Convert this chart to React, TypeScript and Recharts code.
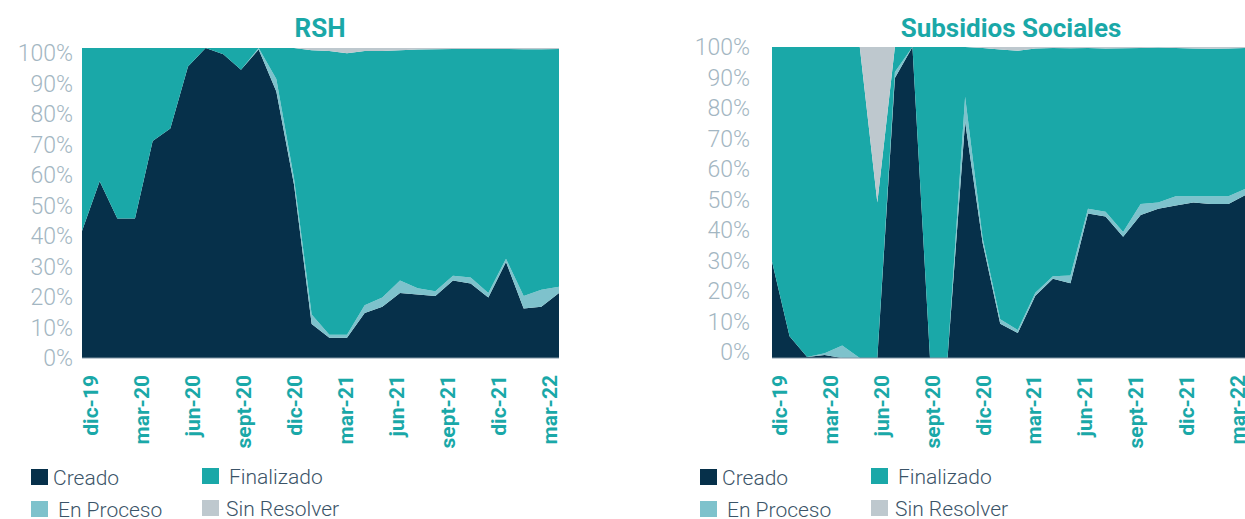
import React from 'react';
import { AreaChart, Area, XAxis, YAxis } from 'recharts';

const months = [
  'dic-19', 'ene-20', 'feb-20', 'mar-20', 'abr-20', 'may-20', 'jun-20', 'jul-20', 'ago-20', 'sept-20',
  'oct-20', 'nov-20', 'dic-20', 'ene-21', 'feb-21', 'mar-21', 'abr-21', 'may-21', 'jun-21', 'jul-21',
  'ago-21', 'sept-21', 'oct-21', 'nov-21', 'dic-21', 'ene-22', 'feb-22', 'mar-22'
];

const yTicks = [0, 0.1, 0.2, 0.3, 0.4, 0.5, 0.6, 0.7, 0.8, 0.9, 1];

// RSH (%)
const rshCreado = [41, 57, 45, 45, 70, 74, 94, 100, 98, 93, 99.5, 86, 56, 11, 6.5, 6.5, 14.5, 16.5, 21, 20.5, 20, 25, 24, 19.5, 31, 16, 16.5, 21];
const rshEnProceso = [0, 0, 0, 0, 0, 0, 0, 0, 0, 0, 0.5, 4, 2, 3, 1, 1, 2.5, 3, 4, 2, 1.5, 1.5, 2, 1.5, 1, 4, 5.5, 2];
const rshFinalizado = [59, 43, 55, 55, 30, 26, 6, 0, 2, 7, 0, 10, 42, 85.3, 91.5, 90.8, 82, 79.5, 74.3, 77, 78.1, 73.2, 73.7, 78.7, 67.7, 79.6, 77.6, 76.7];
const rshSinResolver = [0, 0, 0, 0, 0, 0, 0, 0, 0, 0, 0, 0, 0, 0.7, 1, 1.7, 1, 1, 0.7, 0.5, 0.4, 0.3, 0.3, 0.3, 0.3, 0.4, 0.4, 0.3];

// Subsidios Sociales (%)
const subCreado = [31, 7, 0.3, 1, 0, 0, 0, 90, 100, 0, 0, 76, 37, 11, 8, 20, 25.5, 24, 46.5, 45.5, 39, 46, 48, 49, 50, 49.5, 49.5, 52.5];
const subEnProceso = [0, 0, 0, 0.5, 4, 0, 0, 2, 0, 0, 0, 8, 1.5, 1.5, 1, 1, 0.8, 2.5, 1.5, 1.5, 1.5, 3.5, 2, 3, 2, 2.5, 2.5, 2];
const subFinalizado = [69, 93, 99.7, 98.5, 96, 100, 50, 8, 0, 100, 100, 16, 61.2, 86.7, 89.8, 78.5, 73.4, 73.1, 51.7, 52.5, 59.1, 50.2, 49.8, 47.7, 47.5, 47.4, 47.5, 45.2];
const subSinResolver = [0, 0, 0, 0, 0, 0, 50, 0, 0, 0, 0, 0, 0.3, 0.8, 1.2, 0.5, 0.3, 0.4, 0.3, 0.5, 0.4, 0.3, 0.2, 0.3, 0.5, 0.6, 0.5, 0.3];

const series = [
  { key: 'creado', name: 'Creado', color: '#06304A' },
  { key: 'enProceso', name: 'En Proceso', color: '#7EC2CC' },
  { key: 'finalizado', name: 'Finalizado', color: '#1AA8A8' },
  { key: 'sinResolver', name: 'Sin Resolver', color: '#BEC8CE' },
];

const TEAL = '#1AA8A8';
const GRAY_TEXT = '#A3B6C2';
const LEGEND_TEXT = '#3B5468';

const buildData = (c: number[], p: number[], f: number[], s: number[]) =>
  months.map((m, i) => ({ month: m, creado: c[i], enProceso: p[i], finalizado: f[i], sinResolver: s[i] }));

const rshData = buildData(rshCreado, rshEnProceso, rshFinalizado, rshSinResolver);
const subData = buildData(subCreado, subEnProceso, subFinalizado, subSinResolver);

const MonthTick = (props: any) => {
  const { x, y, payload } = props;
  return (
    <text
      transform={`translate(${x},${y}) rotate(-90)`}
      textAnchor="end"
      dominantBaseline="central"
      fill={TEAL}
      fontSize={21}
      fontWeight={700}
      fontFamily="Roboto, sans-serif"
    >
      {payload.value}
    </text>
  );
};

type StackProps = {
  data: any[];
  width: number;
  top: number;
  right: number;
  yWidth: number;
  yGap: number;
  yPad: { top: number; bottom: number };
};

const StackChart: React.FC<StackProps> = ({ data, width, top, right, yWidth, yGap, yPad }) => (
  <AreaChart
    width={width}
    height={460}
    data={data}
    stackOffset="expand"
    margin={{ top, right, bottom: 0, left: 0 }}
  >
    <XAxis dataKey="month" hide height={0} />
    {/* labels sit at band centres, areas run edge to edge */}
    <XAxis
      xAxisId="labels"
      dataKey="month"
      scale="band"
      interval={2}
      height={102}
      tickSize={0}
      tickMargin={17}
      axisLine={{ stroke: '#8196A5' }}
      tickLine={false}
      tick={MonthTick}
    />
    <YAxis hide width={0} domain={[0, 1]} />
    <YAxis
      yAxisId="labels"
      type="number"
      domain={[0, 1]}
      ticks={yTicks}
      interval={0}
      padding={yPad}
      width={yWidth}
      tickSize={0}
      tickMargin={yGap}
      axisLine={false}
      tickLine={false}
      tickFormatter={(v: number) => `${Math.round(v * 100)}%`}
      tick={{ fill: GRAY_TEXT, fontSize: 23, fontWeight: 300, fontFamily: 'Roboto, sans-serif' }}
    />
    {series.map((s) => (
      <Area
        key={s.key}
        type="linear"
        dataKey={s.key}
        name={s.name}
        stackId="1"
        stroke="none"
        fill={s.color}
        fillOpacity={1}
        dot={false}
        activeDot={false}
        isAnimationActive={false}
      />
    ))}
  </AreaChart>
);

// legend grid: Creado / Finalizado on first row, En Proceso / Sin Resolver below
const legendLayout = [
  { key: 'creado', col: 0, row: 0, gap: 22 },
  { key: 'finalizado', col: 1, row: 0, gap: 27 },
  { key: 'enProceso', col: 0, row: 1, gap: 27 },
  { key: 'sinResolver', col: 1, row: 1, gap: 24 },
];

const Legend = ({ x0 }: { x0: number }) => (
  <g>
    {legendLayout.map((l) => {
      const s = series.find((d) => d.key === l.key)!;
      const sx = x0 + l.col * 171;
      const sy = 469 + l.row * 32 - l.col;
      return (
        <g key={l.key}>
          <rect x={sx} y={sy} width={17} height={16} fill={s.color} />
          <text
            x={sx + l.gap}
            y={sy + 8.5}
            dominantBaseline="central"
            fontSize={21}
            fontWeight={300}
            fontFamily="Roboto, sans-serif"
            fill={LEGEND_TEXT}
          >
            {s.name}
          </text>
        </g>
      );
    })}
  </g>
);

export default function App() {
  return (
    <div style={{ position: 'relative', width: 1245, height: 519, overflow: 'hidden', background: '#fff', fontFamily: 'Roboto, sans-serif' }}>
      <style>{'body{margin:0}'}</style>
      <div style={{ position: 'absolute', left: 0, top: 0 }}>
        <StackChart data={rshData} width={570} top={48} right={11} yWidth={82} yGap={9} yPad={{ top: 5, bottom: 0 }} />
      </div>
      <div style={{ position: 'absolute', left: 680, top: 0 }}>
        <StackChart data={subData} width={566} top={47} right={0} yWidth={92} yGap={22} yPad={{ top: 0, bottom: 6 }} />
      </div>
      <svg width={1245} height={519} style={{ position: 'absolute', left: 0, top: 0, pointerEvents: 'none' }}>
        <text x={320} y={37} textAnchor="middle" fontSize={26} fontWeight={700} fill={TEAL} fontFamily="Roboto, sans-serif">RSH</text>
        <text x={1011} y={37} textAnchor="middle" fontSize={26} fontWeight={700} fill={TEAL} fontFamily="Roboto, sans-serif">Subsidios Sociales</text>
        <Legend x0={31} />
        <Legend x0={700} />
      </svg>
    </div>
  );
}
